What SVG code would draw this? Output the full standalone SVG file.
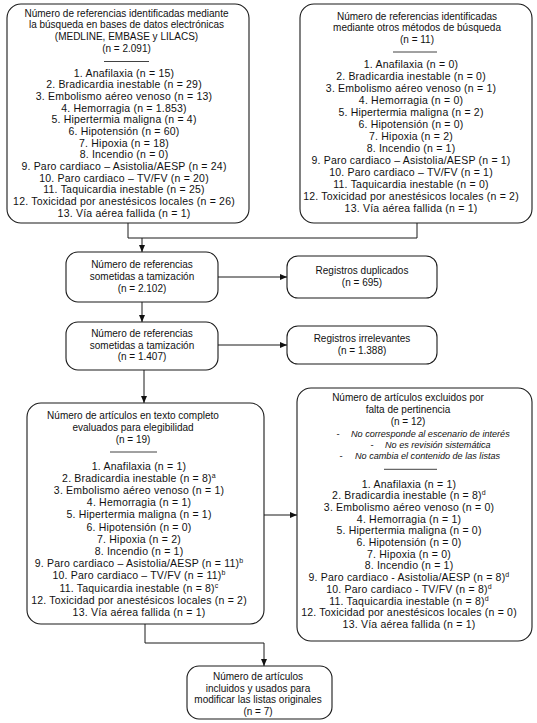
<svg xmlns="http://www.w3.org/2000/svg" width="537" height="723" viewBox="0 0 537 723">
<style>
text{font-family:"Liberation Sans",Arial,Helvetica,sans-serif;fill:#111;text-anchor:middle;font-size:10px}
.l{font-size:10.5px;letter-spacing:0.2px}
.i{font-style:italic;font-size:9.1px;text-anchor:start}
.d{text-anchor:middle;font-size:9.5px}
.box{fill:#fff;stroke:#1a1a1a;stroke-width:1.1}
.sep{stroke:#111;stroke-width:0.8}
.c{fill:none;stroke:#1a1a1a;stroke-width:1}
.s{font-size:7px}
</style>
<defs>
<marker id="ah" markerUnits="userSpaceOnUse" markerWidth="8" markerHeight="7" refX="7" refY="3" orient="auto">
<path d="M0,0 L7,3 L0,6 z" fill="#111"/>
</marker>
</defs>
<g id="connectors">
<polyline class="c" points="128,223 128,238 417,238 417,223"/>
<line class="c" x1="142" y1="238" x2="142" y2="252" marker-end="url(#ah)"/>
<line class="c" x1="218" y1="277" x2="287" y2="277" marker-end="url(#ah)"/>
<line class="c" x1="142" y1="302" x2="142" y2="322" marker-end="url(#ah)"/>
<line class="c" x1="218" y1="345" x2="287" y2="345" marker-end="url(#ah)"/>
<line class="c" x1="144" y1="370" x2="144" y2="403" marker-end="url(#ah)"/>
<line class="c" x1="264" y1="515" x2="297" y2="515" marker-end="url(#ah)"/>
<polyline class="c" points="145,624 145,643 264,643"/>
<line class="c" x1="264" y1="643" x2="264" y2="666" marker-end="url(#ah)"/>
</g>
<g id="n1">
<rect class="box" x="7" y="4" width="242" height="219" rx="14"/>
<text x="126.5" y="16.5">Número de referencias identificadas mediante</text>
<text x="126.5" y="28">la búsqueda en bases de datos electrónicas</text>
<text x="126.5" y="39.5">(MEDLINE, EMBASE y LILACS)</text>
<text x="126.5" y="51.5">(n = 2.091)</text>
<line class="sep" x1="104" y1="61.5" x2="149" y2="61.5"/>
<text class="l" x="124" y="76.5">1. Anafilaxia (n = 15)</text>
<text class="l" x="124" y="88.2">2. Bradicardia inestable (n = 29)</text>
<text class="l" x="124" y="99.8">3. Embolismo aéreo venoso (n = 13)</text>
<text class="l" x="124" y="111.5">4. Hemorragia (n = 1.853)</text>
<text class="l" x="124" y="123.2">5. Hipertermia maligna (n = 4)</text>
<text class="l" x="124" y="134.8">6. Hipotensión (n = 60)</text>
<text class="l" x="124" y="146.5">7. Hipoxia (n = 18)</text>
<text class="l" x="124" y="158.2">8. Incendio (n = 0)</text>
<text class="l" x="124" y="169.8">9. Paro cardiaco – Asistolia/AESP (n = 24)</text>
<text class="l" x="124" y="181.5">10. Paro cardiaco – TV/FV (n = 20)</text>
<text class="l" x="124" y="193.2">11. Taquicardia inestable (n = 25)</text>
<text class="l" x="124" y="204.8">12. Toxicidad por anestésicos locales (n = 26)</text>
<text class="l" x="124" y="216.5">13. Vía aérea fallida (n = 1)</text>
</g>
<g id="n2">
<rect class="box" x="300" y="4" width="232" height="219" rx="14"/>
<text x="417" y="19.5">Número de referencias identificadas</text>
<text x="417" y="31">mediante otros métodos de búsqueda</text>
<text x="417" y="43">(n = 11)</text>
<line class="sep" x1="393" y1="52" x2="437" y2="52"/>
<text class="l" x="411" y="67.5">1. Anafilaxia (n = 0)</text>
<text class="l" x="411" y="79.5">2. Bradicardia inestable (n = 0)</text>
<text class="l" x="411" y="91.5">3. Embolismo aéreo venoso (n = 1)</text>
<text class="l" x="411" y="103.5">4. Hemorragia (n = 0)</text>
<text class="l" x="411" y="115.5">5. Hipertermia maligna (n = 2)</text>
<text class="l" x="411" y="127.5">6. Hipotensión (n = 0)</text>
<text class="l" x="411" y="139.5">7. Hipoxia (n = 2)</text>
<text class="l" x="411" y="151.5">8. Incendio (n = 1)</text>
<text class="l" x="411" y="163.5">9. Paro cardiaco – Asistolia/AESP (n = 1)</text>
<text class="l" x="411" y="175.5">10. Paro cardiaco – TV/FV (n = 1)</text>
<text class="l" x="411" y="187.5">11. Taquicardia inestable (n = 0)</text>
<text class="l" x="411" y="199.5">12. Toxicidad por anestésicos locales (n = 2)</text>
<text class="l" x="411" y="211.5">13. Vía aérea fallida (n = 1)</text>
</g>
<g id="n3">
<rect class="box" x="66" y="252" width="152" height="50" rx="12"/>
<text x="142" y="268">Número de referencias</text>
<text x="142" y="280">sometidas a tamización</text>
<text x="142" y="292">(n = 2.102)</text>
</g>
<g id="n4">
<rect class="box" x="287" y="256" width="150" height="42" rx="11"/>
<text x="362" y="273.5">Registros duplicados</text>
<text x="362" y="285.5">(n = 695)</text>
</g>
<g id="n5">
<rect class="box" x="66" y="322" width="152" height="48" rx="12"/>
<text x="142" y="337">Número de referencias</text>
<text x="142" y="348.5">sometidas a tamización</text>
<text x="142" y="360">(n = 1.407)</text>
</g>
<g id="n6">
<rect class="box" x="287" y="326" width="150" height="38" rx="11"/>
<text x="362" y="342">Registros irrelevantes</text>
<text x="362" y="354">(n = 1.388)</text>
</g>
<g id="n7">
<rect class="box" x="27" y="403" width="237" height="221" rx="14"/>
<text x="133" y="418.5">Número de artículos en texto completo</text>
<text x="133" y="430.5">evaluados para elegibilidad</text>
<text x="133" y="443">(n = 19)</text>
<line class="sep" x1="110" y1="452" x2="157" y2="452"/>
<text class="l" x="139" y="469.5">1. Anafilaxia (n = 1)</text>
<text class="l" x="139" y="481.7">2. Bradicardia inestable (n = 8)<tspan class="s" dy="-4">a</tspan></text>
<text class="l" x="139" y="493.9">3. Embolismo aéreo venoso (n = 1)</text>
<text class="l" x="139" y="506.1">4. Hemorragia (n = 1)</text>
<text class="l" x="139" y="518.3">5. Hipertermia maligna (n = 1)</text>
<text class="l" x="139" y="530.5">6. Hipotensión (n = 0)</text>
<text class="l" x="139" y="542.7">7. Hipoxia (n = 2)</text>
<text class="l" x="139" y="554.9">8. Incendio (n = 1)</text>
<text class="l" x="139" y="567.1">9. Paro cardiaco – Asistolia/AESP (n = 11)<tspan class="s" dy="-4">b</tspan></text>
<text class="l" x="139" y="579.3">10. Paro cardiaco – TV/FV (n = 11)<tspan class="s" dy="-4">b</tspan></text>
<text class="l" x="139" y="591.5">11. Taquicardia inestable (n = 8)<tspan class="s" dy="-4">c</tspan></text>
<text class="l" x="139" y="603.7">12. Toxicidad por anestésicos locales (n = 2)</text>
<text class="l" x="139" y="615.9">13. Vía aérea fallida (n = 1)</text>
</g>
<g id="n8">
<rect class="box" x="297" y="388" width="235" height="253" rx="14"/>
<text x="408" y="400.5">Número de artículos excluidos por</text>
<text x="408" y="412.5">falta de pertinencia</text>
<text x="408" y="425">(n = 12)</text>
<text class="d" x="338" y="436.5">-</text><text class="i" x="351" y="436.5">No corresponde al escenario de interés</text>
<text class="d" x="372" y="447.5">-</text><text class="i" x="385" y="447.5">No es revisión sistemática</text>
<text class="d" x="341" y="458.5">-</text><text class="i" x="355" y="458.5">No cambia el contenido de las listas</text>
<line class="sep" x1="384" y1="469.3" x2="437" y2="469.3"/>
<text class="l" x="409" y="487.5">1. Anafilaxia (n = 1)</text>
<text class="l" x="409" y="499.2">2. Bradicardia inestable (n = 8)<tspan class="s" dy="-4">d</tspan></text>
<text class="l" x="409" y="510.9">3. Embolismo aéreo venoso (n = 0)</text>
<text class="l" x="409" y="522.6">4. Hemorragia (n = 1)</text>
<text class="l" x="409" y="534.3">5. Hipertermia maligna (n = 0)</text>
<text class="l" x="409" y="546">6. Hipotensión (n = 0)</text>
<text class="l" x="409" y="557.7">7. Hipoxia (n = 0)</text>
<text class="l" x="409" y="569.4">8. Incendio (n = 1)</text>
<text class="l" x="409" y="581.1">9. Paro cardiaco - Asistolia/AESP (n = 8)<tspan class="s" dy="-4">d</tspan></text>
<text class="l" x="409" y="592.8">10. Paro cardiaco - TV/FV (n = 8)<tspan class="s" dy="-4">d</tspan></text>
<text class="l" x="409" y="604.5">11. Taquicardia inestable (n = 8)<tspan class="s" dy="-4">d</tspan></text>
<text class="l" x="409" y="616.2">12. Toxicidad por anestésicos locales (n = 0)</text>
<text class="l" x="409" y="627.9">13. Vía aérea fallida (n = 1)</text>
</g>
<g id="n9">
<rect class="box" x="187" y="666" width="145" height="53" rx="12"/>
<text x="258" y="680">Número de artículos</text>
<text x="258" y="691.5">incluidos y usados para</text>
<text x="258" y="703">modificar las listas originales</text>
<text x="258" y="714.5">(n = 7)</text>
</g>
</svg>
